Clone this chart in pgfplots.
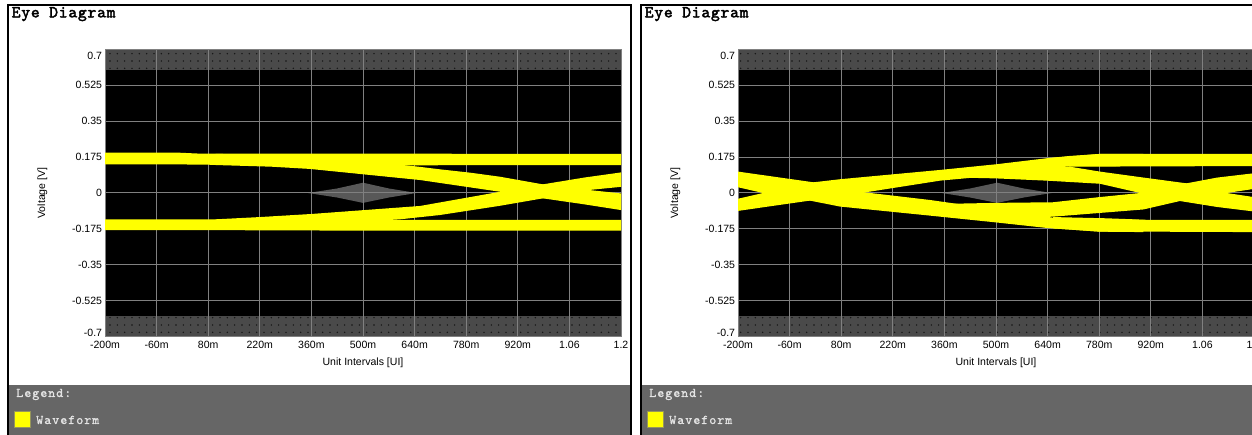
\documentclass[border=0pt]{standalone}
\usepackage{fontspec}
\setmainfont{Liberation Sans}
\newfontfamily\titlefont{lmmono10-regular.otf}[FakeBold=2.5, LetterSpace=5]
\newfontfamily\legfont{lmmono10-regular.otf}[FakeBold=1.2, LetterSpace=7.5]
\usepackage{pgfplots}
\pgfplotsset{compat=1.18}
\usetikzlibrary{patterns.meta}
\definecolor{legbg}{RGB}{102,102,102}
\definecolor{gridc}{RGB}{128,128,128}
\definecolor{hatchc}{RGB}{74,74,74}
\definecolor{dotc}{RGB}{20,20,20}
\definecolor{maskc}{RGB}{88,88,88}
\definecolor{wave}{RGB}{255,255,0}
\definecolor{legtext}{RGB}{228,228,228}
\definecolor{sqedge}{RGB}{150,150,90}
\newcommand{\yl}[2]{\raisebox{#1}[0pt][0pt]{#2}}

\pgfplotsset{eyeaxis/.style={
  scale only axis, width=387pt, height=216pt, anchor=south west,
  xmin=-0.2, xmax=1.2, ymin=-0.7, ymax=0.7,
  set layers, axis on top, clip mode=individual,
  axis line style={draw=none},
  major tick length=0pt,
  grid=major, major grid style={draw=gridc, line width=0.75pt},
  xtick={-0.2,-0.06,0.08,0.22,0.36,0.5,0.64,0.78,0.92,1.06,1.2},
  xticklabels={-200m,-60m,80m,220m,360m,500m,640m,780m,920m,1.06,1.2},
  ytick={-0.7,-0.525,-0.35,-0.175,0,0.175,0.35,0.525,0.7},
  yticklabels={{\yl{0.37pt}{-0.7}},{\yl{-2.83pt}{-0.525}},{\yl{-2.83pt}{-0.35}},{\yl{-2.83pt}{-0.175}},{\yl{-2.83pt}{0}},{\yl{-2.83pt}{0.175}},{\yl{-2.83pt}{0.35}},{\yl{-2.83pt}{0.525}},{\yl{-8.08pt}{0.7}}},
  ticklabel style={font=\fontsize{7.9}{9}\selectfont, inner sep=0pt},
  xticklabel style={anchor=base, yshift=-8.6pt},
  yticklabel style={anchor=east, xshift=-2pt},
  xlabel={Unit Intervals [UI]}, ylabel={Voltage [V]},
  label style={font=\fontsize{7.9}{9}\selectfont, inner sep=0pt},
  xlabel style={at={(axis description cs:0.5,-0.0995)}, anchor=base},
  ylabel style={at={(axis description cs:-0.1212,0.5)}, anchor=center},
}}

\begin{document}
\begin{tikzpicture}
\fill[white] (0,0) rectangle (939pt,326.25pt);
\begin{scope}[x=0.75pt,y=0.75pt]
  \fill[legbg] (8,0) rectangle (632,49.5);
  \fill[legbg] (640,0) rectangle (1252,49.5);
  \draw[line width=1.5pt] (8.3,-5) -- (8.3,430.3) -- (631.3,430.3) -- (631.3,-5);
  \draw[line width=1.5pt] (641.2,-5) -- (641.2,430.3) -- (1262,430.3);
  \node[anchor=base west, inner sep=0pt, font=\titlefont\fontsize{12.5}{14}\selectfont] at (11.5,417.7) {Eye Diagram};
  \node[anchor=base west, inner sep=0pt, font=\titlefont\fontsize{12.5}{14}\selectfont] at (644.5,417.7) {Eye Diagram};
  \node[anchor=base west, inner sep=0pt, text=legtext, font=\legfont\fontsize{10}{12}\selectfont] at (16,38) {Legend:};
  \node[anchor=base west, inner sep=0pt, text=legtext, font=\legfont\fontsize{10}{12}\selectfont] at (649,38) {Legend:};
  \filldraw[fill=wave, draw=sqedge, line width=0.5pt] (14,8) rectangle (30,23.3);
  \filldraw[fill=wave, draw=sqedge, line width=0.5pt] (647,8) rectangle (663,23.3);
  \node[anchor=base west, inner sep=0pt, text=legtext, font=\legfont\fontsize{10}{12}\selectfont] at (36,11) {Waveform};
  \node[anchor=base west, inner sep=0pt, text=legtext, font=\legfont\fontsize{10}{12}\selectfont] at (669,11) {Waveform};
\end{scope}

% ---------------- Panel 1 ----------------
\begin{axis}[eyeaxis, at={(78.75pt,73.5pt)}]
  \addplot[draw=none, fill=black] coordinates {(-0.2,-0.7) (1.2,-0.7) (1.2,0.7) (-0.2,0.7)};
  \addplot[draw=none, fill=hatchc] coordinates {(-0.2,0.6) (1.2,0.6) (1.2,0.7) (-0.2,0.7)};
  \addplot[draw=none, pattern={Dots[distance=5.5pt,radius=0.6pt]}, pattern color=dotc] coordinates {(-0.2,0.6) (1.2,0.6) (1.2,0.7) (-0.2,0.7)};
  \addplot[draw=none, fill=hatchc] coordinates {(-0.2,-0.7) (1.2,-0.7) (1.2,-0.6) (-0.2,-0.6)};
  \addplot[draw=none, pattern={Dots[distance=5.5pt,radius=0.6pt]}, pattern color=dotc] coordinates {(-0.2,-0.7) (1.2,-0.7) (1.2,-0.6) (-0.2,-0.6)};
  \addplot[draw=none, fill=maskc] coordinates {(0.351,0) (0.43,0.022) (0.5,0.05) (0.57,0.022) (0.645,0) (0.57,-0.022) (0.5,-0.048) (0.43,-0.022)};
  % top flat band
  \addplot[on layer=axis foreground, draw=none, fill=wave] coordinates {(-0.2,0.196) (0.0,0.196) (0.05,0.192) (1.2,0.19) (1.2,0.136) (0.3,0.134) (0.1,0.137) (0.0,0.139) (-0.2,0.139)};
  % bottom flat band
  \addplot[on layer=axis foreground, draw=none, fill=wave] coordinates {(-0.2,-0.128) (0.1,-0.128) (0.2,-0.131) (1.2,-0.131) (1.2,-0.183) (0.5,-0.183) (0.0,-0.18) (-0.2,-0.18)};
  % falling band
  \addplot[on layer=axis foreground, draw=none, fill=wave] coordinates {(0.1,0.19) (0.2,0.188) (0.4,0.168) (0.546,0.148) (0.655,0.127) (0.709,0.115) (0.79,0.099) (0.872,0.079) (0.988,0.042) (1.116,0.014) (1.2,-0.002) (1.2,-0.083) (1.1,-0.055) (0.988,-0.026) (0.872,0.006) (0.655,0.063) (0.356,0.117) (0.25,0.128) (0.1,0.136)};
  % rising band
  \addplot[on layer=axis foreground, draw=none, fill=wave] coordinates {(0.1,-0.128) (0.22,-0.117) (0.36,-0.102) (0.655,-0.063) (0.872,0.006) (0.988,0.042) (1.1,0.075) (1.2,0.10) (1.2,0.03) (1.116,0.015) (0.988,-0.026) (0.872,-0.062) (0.709,-0.107) (0.6,-0.128) (0.4,-0.15) (0.1,-0.16)};
\end{axis}

% ---------------- Panel 2 ----------------
\begin{axis}[eyeaxis, at={(553.5pt,73.5pt)}]
  \addplot[draw=none, fill=black] coordinates {(-0.2,-0.7) (1.2,-0.7) (1.2,0.7) (-0.2,0.7)};
  \addplot[draw=none, fill=hatchc] coordinates {(-0.2,0.6) (1.2,0.6) (1.2,0.7) (-0.2,0.7)};
  \addplot[draw=none, pattern={Dots[distance=5.5pt,radius=0.6pt]}, pattern color=dotc] coordinates {(-0.2,0.6) (1.2,0.6) (1.2,0.7) (-0.2,0.7)};
  \addplot[draw=none, fill=hatchc] coordinates {(-0.2,-0.7) (1.2,-0.7) (1.2,-0.6) (-0.2,-0.6)};
  \addplot[draw=none, pattern={Dots[distance=5.5pt,radius=0.6pt]}, pattern color=dotc] coordinates {(-0.2,-0.7) (1.2,-0.7) (1.2,-0.6) (-0.2,-0.6)};
  \addplot[draw=none, fill=maskc] coordinates {(0.353,0) (0.43,0.022) (0.503,0.05) (0.575,0.022) (0.651,0) (0.575,-0.022) (0.503,-0.048) (0.43,-0.022)};
  % rising from crossing at 0
  \addplot[on layer=axis foreground, draw=none, fill=wave] coordinates {(-0.2,-0.028) (-0.132,0.0) (0.005,0.052) (0.077,0.067) (0.348,0.112) (0.502,0.14) (0.638,0.169) (0.782,0.19) (0.9,0.19) (0.9,0.132) (0.7,0.13) (0.6,0.11) (0.5,0.085) (0.348,0.06) (0.145,0.003) (-0.005,-0.037) (-0.2,-0.087)};
  % falling from crossing at 0
  \addplot[on layer=axis foreground, draw=none, fill=wave] coordinates {(-0.2,0.104) (0.005,0.052) (0.145,0.003) (0.321,-0.034) (0.5,-0.08) (0.655,-0.12) (0.9,-0.131) (0.9,-0.19) (0.782,-0.188) (0.638,-0.17) (0.5,-0.143) (0.321,-0.11) (0.077,-0.066) (-0.005,-0.037) (-0.132,0.0) (-0.2,0.028)};
  % falling towards crossing at 1
  \addplot[on layer=axis foreground, draw=none, fill=wave] coordinates {(0.4,0.1) (0.55,0.12) (0.7,0.128) (0.782,0.104) (0.9,0.075) (1.017,0.047) (1.126,0.0) (1.2,-0.02) (1.2,-0.09) (1.1,-0.068) (0.999,-0.039) (0.891,0.0) (0.782,0.045) (0.638,0.06) (0.5,0.071) (0.4,0.075)};
  % rising towards crossing at 1
  \addplot[on layer=axis foreground, draw=none, fill=wave] coordinates {(0.3,-0.055) (0.5,-0.048) (0.655,-0.045) (0.78,-0.02) (0.891,0.0) (1.017,0.047) (1.1,0.075) (1.2,0.096) (1.2,0.02) (1.126,0.0) (0.999,-0.039) (0.9,-0.08) (0.655,-0.115) (0.5,-0.125) (0.3,-0.1)};
  % flat top / bottom
  \addplot[on layer=axis foreground, draw=none, fill=wave] coordinates {(0.638,0.169) (0.7,0.18) (0.782,0.19) (1.2,0.19) (1.2,0.131) (0.7,0.128)};
  \addplot[on layer=axis foreground, draw=none, fill=wave] coordinates {(0.655,-0.117) (0.8,-0.123) (0.92,-0.131) (1.2,-0.131) (1.2,-0.19) (0.92,-0.188) (0.782,-0.188) (0.655,-0.172)};
\end{axis}
\pgfresetboundingbox
\path[use as bounding box] (0,0) rectangle (939pt,326.25pt);
\end{tikzpicture}
\end{document}
